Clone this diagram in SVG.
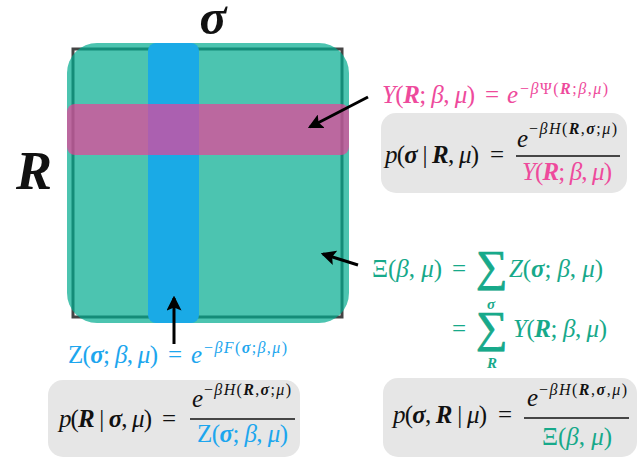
<svg xmlns="http://www.w3.org/2000/svg" width="644" height="459" viewBox="0 0 644 459">
<style>
text{font-family:"Liberation Serif","Times New Roman",serif;font-size:25px;fill:#111}
.i{font-style:italic}
.b{font-weight:bold;font-style:italic}
.sup{font-size:16px}
.pk{fill:#EE4A9C}
.bl{fill:#1DA6EE}
.tl{fill:#17A98A}
.box{fill:#E6E6E6}
.frac{stroke:#111;stroke-width:1.6}
.sum{font-size:44px;stroke:#17A98A;stroke-width:0.9}
.arr{stroke:#000;stroke-width:3;fill:none;marker-end:url(#ah)}
</style>
<defs>
<marker id="ah" markerWidth="5" markerHeight="5" refX="4.2" refY="2.5" orient="auto" markerUnits="strokeWidth">
<path d="M0,0 L5,2.5 L0,5 L1,2.5 Z" fill="#000"/>
</marker>
</defs>
<g id="matrix">
<rect x="73" y="49" width="269" height="268" fill="#fff" stroke="#444" stroke-width="3"/>
<rect x="67" y="43" width="282" height="280" rx="30" fill="#00AB8E" fill-opacity="0.7"/>
<rect x="148" y="43" width="51" height="280" rx="8" fill="#1AAAE6"/>
<rect x="67" y="104" width="282" height="51" rx="8" fill="#F03C96" fill-opacity="0.68"/>
</g>
<g id="axis-labels">
<text x="213" y="34" text-anchor="middle" class="b" style="font-size:50px">σ</text>
<text x="16" y="189" class="b" style="font-size:54px">R</text>
</g>
<g id="connectors">
<line class="arr" x1="368" y1="97" x2="310" y2="127"/>
<line class="arr" x1="358" y1="265" x2="323" y2="254"/>
<line class="arr" x1="174" y1="344" x2="174" y2="298"/>
</g>
<g id="Y-label">
<text x="382" y="103" class="pk" textLength="93" lengthAdjust="spacing"><tspan class="i">Y</tspan>(<tspan class="b">R</tspan>; <tspan class="i">β</tspan>, <tspan class="i">μ</tspan>)</text>
<text x="485" y="103" class="pk">=</text>
<text x="507" y="103" class="pk i">e</text>
<text x="520" y="94" class="pk sup" textLength="88" lengthAdjust="spacing">−<tspan class="i">β</tspan>Ψ(<tspan class="b">R</tspan>;<tspan class="i">β</tspan>,<tspan class="i">μ</tspan>)</text>
</g>
<g id="p-sigma-given-R">
<rect class="box" x="381" y="113" width="246" height="80" rx="15"/>
<text x="385" y="163" textLength="94" lengthAdjust="spacing"><tspan class="i">p</tspan>(<tspan class="b">σ</tspan> | <tspan class="b">R</tspan>, <tspan class="i">μ</tspan>)</text>
<text x="490" y="163">=</text>
<line class="frac" x1="516" y1="156" x2="620" y2="156"/>
<text x="517" y="147" class="i">e</text>
<text x="529" y="134" class="sup" textLength="88" lengthAdjust="spacing">−<tspan class="i">βH</tspan>(<tspan class="b">R</tspan>,<tspan class="b">σ</tspan>;<tspan class="i">μ</tspan>)</text>
<text x="522" y="180" class="pk" textLength="90" lengthAdjust="spacing"><tspan class="i">Y</tspan>(<tspan class="b">R</tspan>; <tspan class="i">β</tspan>, <tspan class="i">μ</tspan>)</text>
</g>
<g id="Xi-label">
<text x="372" y="277" class="tl" textLength="70" lengthAdjust="spacing">Ξ(<tspan class="i">β</tspan>, <tspan class="i">μ</tspan>)</text>
<text x="452" y="277" class="tl">=</text>
<text x="476" y="281" class="tl sum">∑</text>
<text x="491" y="309" class="tl b" style="font-size:15px" text-anchor="middle">σ</text>
<text x="509" y="277" class="tl" textLength="94" lengthAdjust="spacing"><tspan class="i">Z</tspan>(<tspan class="b">σ</tspan>; <tspan class="i">β</tspan>, <tspan class="i">μ</tspan>)</text>
<text x="452" y="337" class="tl">=</text>
<text x="476" y="342" class="tl sum">∑</text>
<text x="492" y="368" class="tl b" style="font-size:15px" text-anchor="middle">R</text>
<text x="513" y="337" class="tl" textLength="94" lengthAdjust="spacing"><tspan class="i">Y</tspan>(<tspan class="b">R</tspan>; <tspan class="i">β</tspan>, <tspan class="i">μ</tspan>)</text>
</g>
<g id="Z-label">
<text x="68" y="363" class="bl" textLength="90" lengthAdjust="spacing">Z(<tspan class="b">σ</tspan>; <tspan class="i">β</tspan>, <tspan class="i">μ</tspan>)</text>
<text x="168" y="363" class="bl">=</text>
<text x="191" y="363" class="bl i">e</text>
<text x="204" y="353" class="bl sup" textLength="83" lengthAdjust="spacing">−<tspan class="i">βF</tspan>(<tspan class="b">σ</tspan>;<tspan class="i">β</tspan>,<tspan class="i">μ</tspan>)</text>
</g>
<g id="p-R-given-sigma">
<rect class="box" x="48" y="380" width="252" height="77" rx="15"/>
<text x="59" y="427" textLength="93" lengthAdjust="spacing"><tspan class="i">p</tspan>(<tspan class="b">R</tspan> | <tspan class="b">σ</tspan>, <tspan class="i">μ</tspan>)</text>
<text x="162" y="427">=</text>
<line class="frac" x1="190" y1="419" x2="295" y2="419"/>
<text x="192" y="407" class="i">e</text>
<text x="204" y="395" class="sup" textLength="87" lengthAdjust="spacing">−<tspan class="i">βH</tspan>(<tspan class="b">R</tspan>,<tspan class="b">σ</tspan>;<tspan class="i">μ</tspan>)</text>
<text x="197" y="442" class="bl" textLength="91" lengthAdjust="spacing">Z(<tspan class="b">σ</tspan>; <tspan class="i">β</tspan>, <tspan class="i">μ</tspan>)</text>
</g>
<g id="p-joint">
<rect class="box" x="383" y="378" width="254" height="79" rx="15"/>
<text x="393" y="423" textLength="94" lengthAdjust="spacing"><tspan class="i">p</tspan>(<tspan class="b">σ</tspan>, <tspan class="b">R</tspan> | <tspan class="i">μ</tspan>)</text>
<text x="498" y="423">=</text>
<line class="frac" x1="524" y1="418" x2="629" y2="418"/>
<text x="527" y="406" class="i">e</text>
<text x="539" y="395" class="sup" textLength="88" lengthAdjust="spacing">−<tspan class="i">βH</tspan>(<tspan class="b">R</tspan>,<tspan class="b">σ</tspan>,<tspan class="i">μ</tspan>)</text>
<text x="542" y="445" class="tl" textLength="70" lengthAdjust="spacing">Ξ(<tspan class="i">β</tspan>, <tspan class="i">μ</tspan>)</text>
</g>
</svg>
